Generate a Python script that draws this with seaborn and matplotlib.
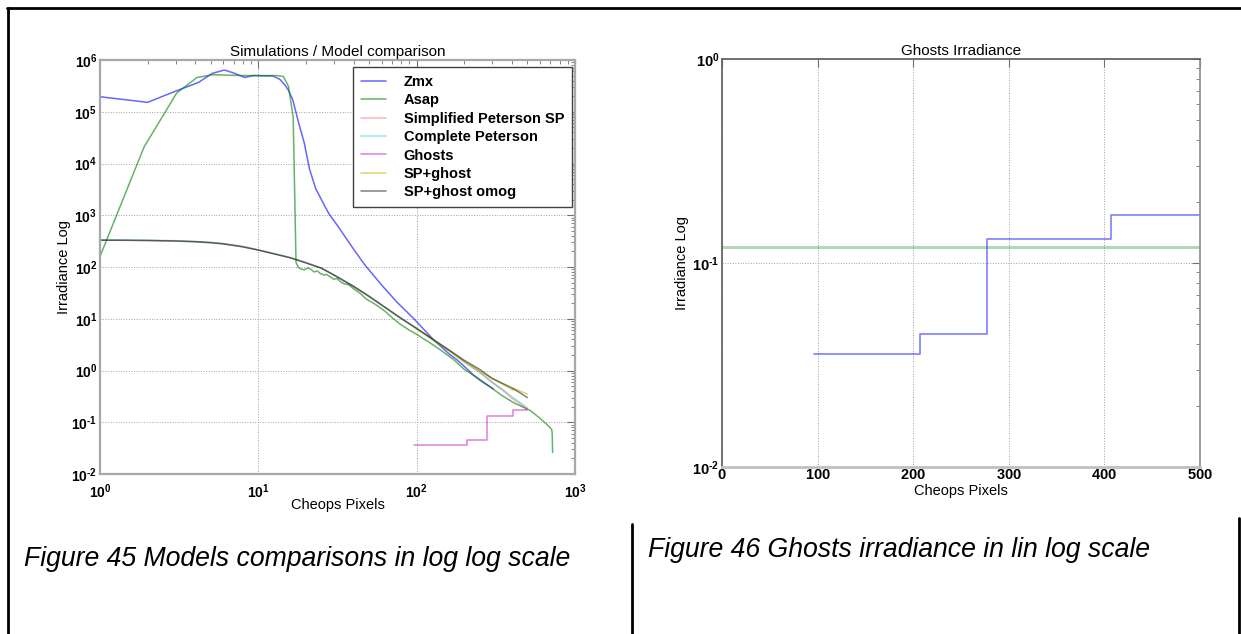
import numpy as np
import pandas as pd
import matplotlib
matplotlib.use("Agg")
import matplotlib.pyplot as plt
import seaborn as sns
from matplotlib.lines import Line2D
from matplotlib.ticker import FuncFormatter, LogLocator, FixedLocator

# ---------------- data ----------------
zmx_x = [1, 2, 3, 4.2, 5.1, 6.1, 7.0, 8.2, 9.3, 12.4, 13.7, 14.7, 15.5, 16.5, 18, 19.5,
         21, 23, 26, 28, 32, 35, 40, 47, 60, 75, 96, 127, 160, 180, 200, 230, 260, 305]
zmx_y = [1.95e5, 1.52e5, 2.5e5, 3.7e5, 5.5e5, 6.4e5, 5.6e5, 4.6e5, 5.0e5, 4.9e5, 4.2e5,
         3.3e5, 2.6e5, 1.7e5, 6e4, 2.5e4, 8e3, 3.3e3, 1.6e3, 1.05e3, 600, 400, 220, 110,
         45, 21, 10, 4.0, 2.1, 1.6, 1.2, 0.8, 0.6, 0.44]

asap_x = [1, 1.9, 3.05, 4.1, 5.2, 8, 13.1, 14.4, 15.5, 16.6, 17.3, 17.9, 18.6, 19.5, 20.5,
          21.5, 22.5, 23.5, 24.8, 26, 27, 28.5, 30, 31.5, 33, 35, 37, 40, 44, 48, 52, 57,
          63, 70, 78, 90, 100, 120, 140, 170, 200, 230, 280, 340, 408, 520, 600, 680, 713,
          718, 722]
asap_y = [160, 2.1e4, 2.3e5, 4.6e5, 5.2e5, 5.0e5, 5.0e5, 4.8e5, 3.1e5, 8e4, 123, 98, 92,
          88, 96, 90, 80, 84, 74, 70, 72, 64, 58, 60, 52, 47, 46, 38, 31, 24, 21, 17.5, 14,
          10.5, 8, 6, 5, 3.5, 2.55, 1.65, 1.05, 0.8, 0.53, 0.34, 0.24, 0.17, 0.12, 0.085,
          0.072, 0.06, 0.026]

model_x = [1, 1.5, 2, 3, 4, 5, 6, 8, 10, 13, 16, 20, 25, 30, 40, 50, 65, 80, 100, 130,
           160, 200, 250, 300, 350, 400, 450, 500]
simplified_y = [330, 328, 325, 318, 308, 295, 280, 245, 212, 175, 150, 120, 95, 70, 42,
                27, 15.5, 10, 6.4, 3.7, 2.4, 1.45, 0.92, 0.58, 0.41, 0.29, 0.225, 0.175]
complete_y = [335, 333, 330, 322, 312, 300, 285, 250, 215, 178, 152, 122, 96, 71, 43,
              27.5, 15.8, 10.2, 6.5, 3.75, 2.45, 1.48, 0.95, 0.6, 0.43, 0.31, 0.24, 0.19]
omog_y = [330, 328, 325, 318, 308, 295, 280, 245, 212, 175, 150, 120, 95, 70, 42, 27.1,
          15.6, 10.1, 6.5, 3.8, 2.5, 1.57, 1.05, 0.70, 0.56, 0.46, 0.37, 0.30]

spghost_x = [96, 100, 130, 160, 200, 250, 300, 350, 406, 408, 450, 500]
spghost_y = [7.0, 6.44, 3.74, 2.44, 1.5, 0.97, 0.71, 0.54, 0.42, 0.455, 0.40, 0.35]

ghost_x = [96, 207, 277, 407, 500]
ghost_y = [0.036, 0.045, 0.131, 0.171, 0.171]

omog_level_x = [0, 500]
omog_level_y = [0.12, 0.12]

# ---------------- style ----------------
sns.set_theme(style="white")
plt.rcParams["font.family"] = ["Liberation Sans", "DejaVu Sans"]
plt.rcParams["mathtext.fontset"] = "custom"
plt.rcParams["mathtext.rm"] = "Liberation Sans:bold"
plt.rcParams["mathtext.bf"] = "Liberation Sans:bold"
plt.rcParams["mathtext.it"] = "Liberation Sans:italic"
plt.rcParams["text.color"] = "black"
plt.rcParams["axes.labelcolor"] = "black"
plt.rcParams["xtick.color"] = "black"
plt.rcParams["ytick.color"] = "black"

fig = plt.figure(figsize=(12.41, 6.34), dpi=100)
fig.patch.set_facecolor("white")

W, H = 1241, 634


def box(x0, y0, x1, y1):
    return [x0 / W, 1 - y1 / H, (x1 - x0) / W, (y1 - y0) / H]


def log_fmt(v, pos):
    e = int(round(np.log10(v)))
    if e < 0:
        return r"$\mathbf{10^{\text{-}%d}}$" % (-e)
    return r"$\mathbf{10^{%d}}$" % e


def bold_int(v, pos):
    return r"$\mathbf{%d}$" % int(round(v))


def style_axes(ax, xpad, size):
    ax.set_facecolor("white")
    ax.grid(True, which="major", linestyle=":", color="#a0a0a0", linewidth=0.7)
    ax.tick_params(which="both", direction="in", top=True, right=True,
                   colors="#707070", labelcolor="black", labelsize=size)
    ax.tick_params(axis="x", which="major", pad=xpad)
    ax.tick_params(axis="y", which="major", pad=2)
    ax.tick_params(which="major", length=6, width=0.8)
    ax.tick_params(which="minor", length=3, width=0.6)


# ---------------- left: log-log comparison ----------------
ax1 = fig.add_axes(box(100, 60, 575, 474))
series = [
    ("Zmx", zmx_x, zmx_y, (0.0, 0.0, 1.0), 0.6),
    ("Asap", asap_x, asap_y, (0.0, 0.5, 0.0), 0.6),
    ("Simplified Peterson SP", model_x, simplified_y, (1.0, 0.0, 0.0), 0.3),
    ("Complete Peterson", model_x, complete_y, (0.0, 0.75, 0.75), 0.4),
    ("Ghosts", ghost_x, ghost_y, (0.75, 0.0, 0.75), 0.5),
    ("SP+ghost", spghost_x, spghost_y, (0.75, 0.75, 0.0), 0.6),
    ("SP+ghost omog", model_x, omog_y, (0.0, 0.0, 0.0), 0.5),
]
for name, xs, ys, col, a in series:
    df = pd.DataFrame({"x": xs, "y": ys})
    kw = {}
    if name == "Ghosts":
        kw["drawstyle"] = "steps-post"
    sns.lineplot(data=df, x="x", y="y", ax=ax1, color=col, alpha=a, linewidth=1.1,
                 estimator=None, sort=False, label=name, **kw)

ax1.set_xscale("log")
ax1.set_yscale("log")
ax1.set_xlim(1, 1000)
ax1.set_ylim(1e-2, 1e6)
ax1.xaxis.set_major_locator(LogLocator(base=10, numticks=10))
ax1.xaxis.set_minor_locator(LogLocator(base=10, subs=np.arange(2, 10), numticks=10))
ax1.yaxis.set_major_locator(LogLocator(base=10, numticks=20))
ax1.yaxis.set_minor_locator(LogLocator(base=10, subs=np.arange(2, 10), numticks=20))
ax1.xaxis.set_major_formatter(FuncFormatter(log_fmt))
ax1.yaxis.set_major_formatter(FuncFormatter(log_fmt))
ax1.xaxis.set_minor_formatter(FuncFormatter(lambda v, p: ""))
ax1.yaxis.set_minor_formatter(FuncFormatter(lambda v, p: ""))
style_axes(ax1, xpad=6, size=10)
for s in ax1.spines.values():
    s.set_color("#a8a8a8")
    s.set_linewidth(1.6)
ax1.set_title("Simulations / Model comparison", fontsize=11, pad=3)
ax1.set_xlabel("Cheops Pixels", fontsize=10.5, labelpad=-2)
ax1.set_ylabel("Irradiance Log", fontsize=10.5)
ax1.yaxis.set_label_coords(-0.062, 0.5)

leg = ax1.legend(loc="upper right", bbox_to_anchor=(0.994, 0.983), frameon=True,
                 fancybox=False, prop={"weight": "bold", "size": 10.5},
                 handlelength=1.7, handletextpad=1.2, labelspacing=0.3,
                 borderpad=0.55, borderaxespad=0.0)
leg.get_frame().set_edgecolor("#404040")
leg.get_frame().set_linewidth(1.0)
leg.get_frame().set_alpha(1.0)

# ---------------- right: ghosts in lin-log ----------------
ax2 = fig.add_axes(box(722, 59, 1200, 467))
gdf = pd.DataFrame({"x": ghost_x, "y": ghost_y})
sns.lineplot(data=gdf, x="x", y="y", ax=ax2, color=(0.0, 0.0, 1.0), alpha=0.5,
             linewidth=1.2, estimator=None, sort=False, drawstyle="steps-post")
odf = pd.DataFrame({"x": omog_level_x, "y": omog_level_y})
sns.lineplot(data=odf, x="x", y="y", ax=ax2, color=(0.0, 0.5, 0.0), alpha=0.3,
             linewidth=2.2, estimator=None, sort=False)
ax2.set_yscale("log")
ax2.set_xlim(0, 500)
ax2.set_ylim(1e-2, 1)
ax2.xaxis.set_major_locator(FixedLocator([0, 100, 200, 300, 400, 500]))
ax2.xaxis.set_major_formatter(FuncFormatter(bold_int))
ax2.yaxis.set_major_locator(LogLocator(base=10, numticks=10))
ax2.yaxis.set_minor_locator(LogLocator(base=10, subs=np.arange(2, 10), numticks=10))
ax2.yaxis.set_major_formatter(FuncFormatter(log_fmt))
ax2.yaxis.set_minor_formatter(FuncFormatter(lambda v, p: ""))
style_axes(ax2, xpad=1, size=10.5)
ax2.spines["top"].set_color("#606060")
ax2.spines["left"].set_color("#606060")
ax2.spines["right"].set_color("#909090")
ax2.spines["bottom"].set_color("#c0c0c0")
ax2.spines["bottom"].set_linewidth(2.0)
ax2.set_title("Ghosts Irradiance", fontsize=11, pad=3)
ax2.set_xlabel("Cheops Pixels", fontsize=10.5, labelpad=1)
ax2.set_ylabel("Irradiance Log", fontsize=10.5)
ax2.yaxis.set_label_coords(-0.068, 0.5)

# ---------------- captions and page frame ----------------
fig.text(24 / W, 1 - 566 / H, "Figure 45 Models comparisons in log log scale",
         fontsize=19.2, style="italic", va="baseline", ha="left", color="black")
fig.text(648 / W, 1 - 557 / H, "Figure 46 Ghosts irradiance in lin log scale",
         fontsize=19.2, style="italic", va="baseline", ha="left", color="black")

frame_kw = dict(color="black", linewidth=2.0, transform=fig.transFigure)
fig.add_artist(Line2D([8 / W, 8 / W], [0, 1 - 8 / H], **frame_kw))
fig.add_artist(Line2D([7 / W, 1], [1 - 8 / H, 1 - 8 / H], **frame_kw))
fig.add_artist(Line2D([632 / W, 632 / W], [0, 1 - 524 / H], **frame_kw))
fig.add_artist(Line2D([1239 / W, 1239 / W], [0, 1 - 518 / H], **frame_kw))

fig.savefig("out.png", dpi=100, facecolor="white")
